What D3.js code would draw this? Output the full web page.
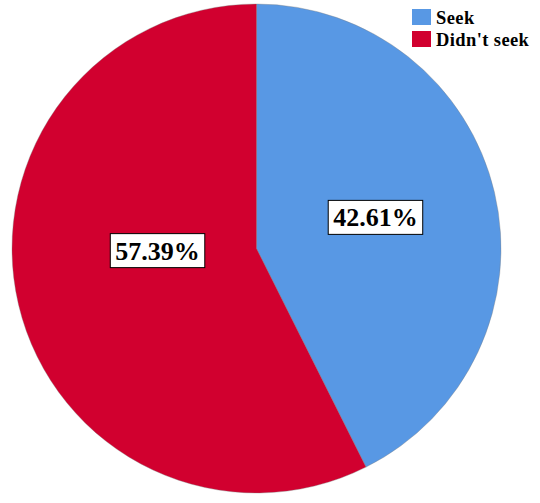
<!DOCTYPE html>
<html>
<head>
<meta charset="utf-8">
<script src="https://cdn.jsdelivr.net/npm/d3@7"></script>
<style>
	body { margin: 0; background: #fff; }
	svg { display: block; }
</style>
</head>
<body>
<div id="chart"></div>
<script>
// values
const categories = ["Seek", "Didn't seek"]
const percents = [42.61, 57.39]
const colours = ["#5898E4", "#D1002F"]

function drawPie() {
	width = 540
	height = 503
	cx = 256.5
	cy = 248.5
	radius = 244.5

	d3.selectAll("#chart > *").remove()

	const svg = d3.select("#chart").append("svg")
	.attr("width", width)
	.attr("height", height)

	const data = categories.map((c, i) => ({name: c, value: percents[i]}))

	const pie = d3.pie()
	.sort(null)
	.value(d => d.value)

	const arc = d3.arc()
	.innerRadius(0)
	.outerRadius(radius)

	const colour = d3.scaleOrdinal()
	.domain(categories)
	.range(colours)

	const g = svg.append("g")
	.attr("transform", `translate(${cx},${cy})`)

	const arcs = pie(data)

	g.selectAll("path")
	.data(arcs)
	.join("path")
	  .attr("d", arc)
	  .attr("fill", d => colour(d.data.name))
	  .attr("stroke", "#7a7a7a")
	  .attr("stroke-opacity", .45)
	  .attr("stroke-width", .8)

	//SPSS puts the big slice's label a bit off its centroid, nudge it
	const nudge = [[0, -3], [20, -26]]

	const label = g.selectAll("g.lbl")
	.data(arcs)
	.join("g")
	  .attr("class", "lbl")
	  .attr("transform", (d, i) => {
	    const c = arc.centroid(d)
	    return `translate(${c[0] + nudge[i][0]}, ${c[1] + nudge[i][1]})`
	  })

	const txt = label.append("text")
	.attr("text-anchor", "middle")
	.attr("dy", "0.35em")
	.attr("font-family", "'Liberation Serif', 'Times New Roman', serif")
	.attr("font-weight", "bold")
	.attr("font-size", 26)
	.attr("fill", "#000")
	.text(d => d.data.value.toFixed(2) + "%")

	txt.each(function () {
		const b = this.getBBox()
		d3.select(this.parentNode).insert("rect", "text")
		  .attr("x", b.x - 5)
		  .attr("y", -17)
		  .attr("width", b.width + 10)
		  .attr("height", 34)
		  .attr("fill", "#fff")
		  .attr("stroke", "#000")
		  .attr("stroke-width", 1)
	})

	// legend top right
	const legend = svg.append("g")
	.attr("transform", "translate(412,9)")

	const item = legend.selectAll("g")
	.data(categories)
	.join("g")
	  .attr("transform", (d, i) => `translate(0, ${i * 22})`)

	item.append("rect")
	.attr("width", 19)
	.attr("height", 16)
	.attr("fill", d => colour(d))

	item.append("text")
	.attr("x", 24)
	.attr("y", 15)
	.attr("font-family", "'Liberation Serif', 'Times New Roman', serif")
	.attr("font-weight", "bold")
	.attr("font-size", 18.5)
	.attr("letter-spacing", 0.4)
	.attr("fill", "#000")
	.text(d => d)
}

drawPie()
</script>
</body>
</html>
